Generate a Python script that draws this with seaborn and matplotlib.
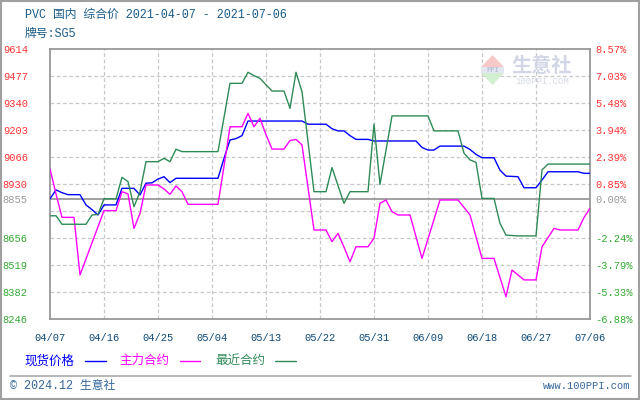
import numpy as np
import pandas as pd
import matplotlib
matplotlib.use("Agg")
import matplotlib.pyplot as plt
import matplotlib.dates as mdates
from matplotlib.lines import Line2D
from matplotlib.patches import Rectangle, Polygon
import seaborn as sns

# ---------------- data ----------------
start_date = "2021-04-07"
end_date = "2021-07-06"

spot_days = [0, 1, 2, 3, 5, 6, 7, 8, 9, 11, 12, 14, 15, 16, 17, 18, 19, 20, 21, 28,
             29, 30, 31, 32, 33, 42, 43, 46, 47, 48, 49, 50, 51, 53, 54, 61, 62, 63,
             64, 65, 69, 70, 71, 72, 74, 75, 76, 78, 79, 81, 82, 83, 88, 89, 90]
spot_vals = [8855, 8900, 8886, 8876, 8876, 8824, 8800, 8773, 8824, 8824, 8908, 8908,
             8874, 8934, 8936, 8955, 8967, 8937, 8959, 8959, 9060, 9153, 9160, 9175,
             9249, 9249, 9233, 9233, 9210, 9199, 9199, 9175, 9156, 9156, 9148, 9148,
             9115, 9102, 9102, 9122, 9122, 9105, 9080, 9063, 9063, 9000, 8970, 8967,
             8911, 8911, 8950, 8992, 8992, 8984, 8984]

main_days = [0, 1, 2, 4, 5, 9, 11, 12, 13, 14, 15, 16, 18, 19, 20, 21, 22, 23, 28, 29,
             30, 32, 33, 34, 35, 36, 37, 39, 40, 41, 42, 44, 46, 47, 48, 49, 50, 51,
             53, 54, 55, 56, 57, 58, 60, 62, 65, 68, 70, 72, 74, 76, 77, 79, 81, 82,
             84, 85, 88, 89, 90]
main_vals = [9006, 8880, 8761, 8761, 8469, 8795, 8795, 8891, 8880, 8705, 8781, 8925,
             8925, 8905, 8878, 8920, 8891, 8827, 8827, 9020, 9220, 9220, 9288, 9220,
             9263, 9180, 9107, 9107, 9150, 9156, 9128, 8697, 8697, 8638, 8680, 8610,
             8536, 8612, 8612, 8655, 8832, 8849, 8790, 8773, 8773, 8553, 8849, 8849,
             8773, 8553, 8553, 8359, 8494, 8444, 8444, 8612, 8705, 8697, 8697, 8760,
             8807]

near_days = [0, 1, 2, 6, 7, 8, 9, 11, 12, 13, 14, 15, 16, 18, 19, 20, 21, 22, 28, 30,
             32, 33, 34, 35, 37, 39, 40, 41, 42, 44, 46, 47, 49, 50, 53, 54, 55, 57,
             63, 64, 68, 69, 70, 71, 72, 74, 75, 76, 78, 81, 82, 83, 90]
near_vals = [8769, 8769, 8726, 8726, 8773, 8776, 8855, 8855, 8964, 8942, 8815, 8891,
             9043, 9043, 9060, 9043, 9106, 9094, 9094, 9440, 9440, 9496, 9479, 9465,
             9401, 9401, 9313, 9496, 9398, 8891, 8891, 9013, 8832, 8891, 8891, 9233,
             8928, 9275, 9275, 9199, 9199, 9086, 9052, 9040, 8857, 8857, 8731, 8671,
             8667, 8667, 9001, 9031, 9031]

base_price = 8855
y_min, y_max = 8246, 9614
left_labels = ["8246", "8382", "8519", "8656", "8855", "8930", "9066", "9203",
               "9340", "9477", "9614"]
right_labels = ["-6.88%", "-5.33%", "-3.79%", "-2.24%", "0.00%", "0.85%", "2.39%",
                "3.94%", "5.48%", "7.03%", "8.57%"]
label_colors = ["#33aa33"] * 4 + ["#999999"] + ["#ff3333"] * 6

series_names = ["现货价格", "主力合约", "最近合约"]
series_colors = ["#0000ff", "#ff00ff", "#2e8b57"]

# ---------------- styling ----------------
sns.set_style("white")
plt.rcParams['font.family'] = ['Liberation Mono', 'Noto Sans CJK SC']

W, H = 640, 400
fig = plt.figure(figsize=(6.4, 4.0), dpi=100)
fig.patch.set_facecolor("white")


def P(x, y):
    return (x / W, 1 - y / H)


ax = fig.add_axes([50 / W, 1 - 319 / H, 540 / W, 270 / H])
ax.set_facecolor("white")

t0 = pd.Timestamp(start_date)
t1 = pd.Timestamp(end_date)

frames = []
for name, days, vals in zip(series_names, [spot_days, main_days, near_days],
                            [spot_vals, main_vals, near_vals]):
    frames.append(pd.DataFrame({"date": t0 + pd.to_timedelta(days, unit="D"),
                                "value": vals, "series": name}))
df = pd.concat(frames, ignore_index=True)

# grid
grid_levels = np.linspace(y_min, y_max, 11)
for g in grid_levels[1:-1]:
    ax.axhline(g, color="#c8c8c8", lw=0.9, ls=(0, (3, 2)), zorder=1)
xticks = pd.date_range(t0, t1, freq="9D")
for d in xticks[1:-1]:
    ax.axvline(d, color="#c8c8c8", lw=0.9, ls=(0, (3, 2)), zorder=1)
ax.axhline(base_price, color="#999999", lw=1.3, zorder=2)

for name, color in zip(series_names, series_colors):
    sub = df[df["series"] == name]
    sns.lineplot(data=sub, x="date", y="value", ax=ax, color=color, lw=1.0,
                 estimator=None, legend=False, zorder=3)

ax.set_xlim(t0, t1)
ax.set_ylim(y_min, y_max)
ax.set_xlabel("")
ax.set_ylabel("")
for s in ax.spines.values():
    s.set_color("#999999")
    s.set_linewidth(1.3)

ytick_pos = list(grid_levels)
ytick_pos[4] = base_price
ax.set_yticks(ytick_pos)
ax.set_yticklabels(left_labels)
ax.tick_params(axis="y", length=0, pad=16, labelsize=7.5)
for lbl, c in zip(ax.get_yticklabels(), label_colors):
    lbl.set_color(c)

ax.set_xticks(xticks)
ax.xaxis.set_major_formatter(mdates.DateFormatter("%m/%d"))
ax.tick_params(axis="x", length=0, pad=10, labelsize=7.5, labelcolor="#0d4a7a")

ax2 = ax.twinx()
ax2.set_ylim(y_min, y_max)
ax2.set_yticks(ytick_pos)
ax2.set_yticklabels(right_labels)
ax2.tick_params(axis="y", length=0, pad=4, labelsize=7.5)
for lbl, c in zip(ax2.get_yticklabels(), label_colors):
    lbl.set_color(c)
for s in ax2.spines.values():
    s.set_visible(False)
ax2.grid(False)

# titles
title_color = "#1a5c8a"
fig.text(*P(25, 15), "PVC 国内 综合价 2021-04-07 - 2021-07-06", fontsize=8.5,
         color=title_color, va="center", ha="left")
fig.text(*P(25, 34), "牌号:SG5", fontsize=8.5, color=title_color, va="center", ha="left")

# legend
leg_text_x = [24, 119, 215]
leg_line_x = [(85, 106), (180, 200), (275, 296)]
for name, color, tx, (lx0, lx1) in zip(series_names, series_colors, leg_text_x, leg_line_x):
    fig.text(*P(tx, 361), name, fontsize=9, color=color, va="center", ha="left")
    fig.add_artist(Line2D([lx0 / W, lx1 / W], [1 - 361 / H, 1 - 361 / H],
                          transform=fig.transFigure, color=color, lw=1.0))

# separator and footer
fig.add_artist(Line2D([10 / W, 631 / W], [1 - 376 / H, 1 - 376 / H],
                      transform=fig.transFigure, color="#aaaaaa", lw=1.2))
fig.text(*P(10, 386), "© 2024.12 生意社", fontsize=8.5, color="#336699",
         va="center", ha="left")
fig.text(*P(630, 386), "www.100PPI.com", fontsize=7.5, color="#336699",
         va="center", ha="right")

# watermark logo
fig.add_artist(Polygon([P(481, 67), P(504, 67), P(492.5, 55)], closed=True,
                       transform=fig.transFigure, facecolor="#f6c8c8", edgecolor="none"))
fig.add_artist(Rectangle(P(481, 73), 23 / W, 6 / H, transform=fig.transFigure,
                         facecolor="#e4e7f1", edgecolor="none"))
fig.text(*P(492.5, 70), "PPI", fontsize=5, color="#b8bfd6", ha="center", va="center",
         fontweight="bold")
fig.add_artist(Polygon([P(481, 73), P(504, 73), P(492.5, 85)], closed=True,
                       transform=fig.transFigure, facecolor="#d2efd2", edgecolor="none"))
fig.text(*P(542, 66), "生意社", fontsize=14.5, color="#d2d6e6", ha="center", va="center",
         fontweight="bold")
fig.text(*P(542, 81), "100PPI.COM", fontsize=6.5, color="#d6d9e8", ha="center",
         va="center")

# outer border
fig.add_artist(Rectangle((0.001, 0.002), 0.997, 0.996, transform=fig.transFigure,
                         fill=False, edgecolor="#a0a0a0", lw=1.5))

fig.savefig("out.png", dpi=100, facecolor="white")
